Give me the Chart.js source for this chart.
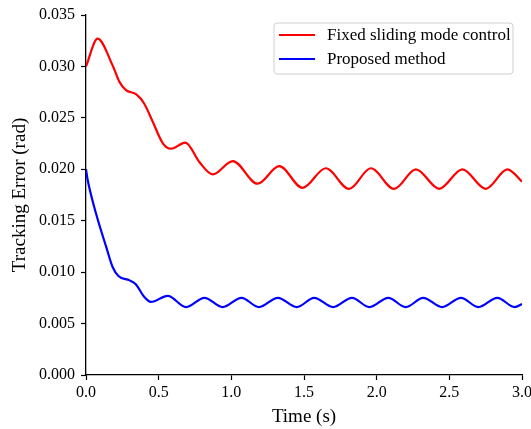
<!DOCTYPE html>
<html>
<head>
<meta charset="utf-8">
<script src="https://cdn.jsdelivr.net/npm/chart.js@4"></script>
<style>
  html, body { margin: 0; padding: 0; background: #fff; }
  #wrap { width: 531px; height: 429px; }
</style>
</head>
<body>
<div id="wrap"><canvas id="chart" width="531" height="429"></canvas></div>
<script>
// Veriler
const redLabel = "Fixed sliding mode control";
const redT = [0, 0.08, 0.183, 0.23, 0.275, 0.344, 0.40, 0.46, 0.53, 0.585, 0.684, 0.78, 0.872, 1.01, 1.18, 1.33, 1.49, 1.65, 1.81, 1.96, 2.12, 2.27, 2.43, 2.59, 2.75, 2.90, 3.0];
const redV = [0.0300, 0.0327, 0.0301, 0.0285, 0.0277, 0.0273, 0.0264, 0.0246, 0.0225, 0.0220, 0.0226, 0.0207, 0.0195, 0.0208, 0.0186, 0.0203, 0.0182, 0.0201, 0.0181, 0.0201, 0.0181, 0.0200, 0.0181, 0.0200, 0.0181, 0.0200, 0.0188];

const blueLabel = "Proposed method";
const blueT = [0, 0.011, 0.069, 0.138, 0.183, 0.225, 0.30, 0.344, 0.40, 0.447, 0.562, 0.689, 0.815, 0.94, 1.07, 1.19, 1.32, 1.45, 1.57, 1.70, 1.83, 1.95, 2.08, 2.20, 2.32, 2.45, 2.58, 2.70, 2.83, 2.95, 3.0];
const blueV = [0.0200, 0.0190, 0.0157, 0.0125, 0.0105, 0.0096, 0.0092, 0.0088, 0.0076, 0.0071, 0.0077, 0.0066, 0.0075, 0.0066, 0.0075, 0.0066, 0.0075, 0.0066, 0.0075, 0.0066, 0.0075, 0.0066, 0.0075, 0.0066, 0.0075, 0.0066, 0.0075, 0.0066, 0.0075, 0.0066, 0.0069];

const xTicks = [0, 0.5, 1.0, 1.5, 2.0, 2.5, 3.0];
const yTicks = [0, 0.005, 0.010, 0.015, 0.020, 0.025, 0.030, 0.035];

const FONT = "'Liberation Serif', 'Times New Roman', serif";

function pts(t, v){ return t.map((x,i)=>({x:x, y:v[i]})); }

// legend drawn inside the plot, top right
const legendBox = {
  id: "legendBox",
  afterDraw(chart){
    const ctx = chart.ctx, a = chart.chartArea;
    const w = 239, h = 51, x = a.right - 9 - w, y = a.top + 8;
    ctx.save();
    ctx.beginPath();
    ctx.roundRect(x, y, w, h, 3);
    ctx.fillStyle = "rgba(255,255,255,0.8)";
    ctx.fill();
    ctx.strokeStyle = "#d0d0d0";
    ctx.lineWidth = 1;
    ctx.stroke();
    ctx.font = "17px " + FONT;
    ctx.textBaseline = "middle";
    chart.data.datasets.forEach((ds,i)=>{
      const ly = y + 12 + i*24;
      ctx.beginPath();
      ctx.moveTo(x + 5, ly); ctx.lineTo(x + 41, ly);
      ctx.strokeStyle = ds.borderColor; ctx.lineWidth = 2.2;
      ctx.stroke();
      ctx.fillStyle = "#000";
      ctx.fillText(ds.label, x + 53, ly + 1);
    });
    ctx.restore();
  }
};

new Chart(document.getElementById("chart"), {
  type: "line",
  data: {
    datasets: [
      {label: redLabel, data: pts(redT, redV), borderColor: "#ff0000", borderWidth: 2.2, pointRadius: 0, cubicInterpolationMode: "monotone", fill: false},
      {label: blueLabel, data: pts(blueT, blueV), borderColor: "#0000ff", borderWidth: 2.2, pointRadius: 0, cubicInterpolationMode: "monotone", fill: false}
    ]
  },
  options: {
    responsive: false,
    animation: false,
    layout: {padding: {top: 15, right: 9, left: 0, bottom: 0}},
    plugins: {legend: {display: false}, tooltip: {enabled: false}},
    scales: {
      x: {
        type: "linear", min: 0, max: 3,
        afterBuildTicks: s => { s.ticks = xTicks.map(v=>({value:v})); },
        afterFit: s => { s.height = 54; s.paddingLeft = 0; s.paddingRight = 0; },
        ticks: {color: "#000", font: {family: FONT, size: 16}, padding: 3, maxRotation: 0,
                callback: v => v.toFixed(1)},
        grid: {drawOnChartArea: false, drawTicks: true, tickLength: 5, color: "#000", tickWidth: 1.2},
        border: {display: true, color: "#000", width: 1.3},
        title: {display: true, text: "Time (s)", color: "#000", font: {family: FONT, size: 19}, padding: {top: 0, bottom: 1}}
      },
      y: {
        type: "linear", min: 0, max: 0.035,
        afterBuildTicks: s => { s.ticks = yTicks.map(v=>({value:v})); },
        afterFit: s => { s.width = 86; s.paddingTop = 0; s.paddingBottom = 0; },
        ticks: {color: "#000", font: {family: FONT, size: 16}, padding: 6,
                callback: v => v.toFixed(3)},
        grid: {drawOnChartArea: false, drawTicks: true, tickLength: 5, color: "#000", tickWidth: 1.2},
        border: {display: true, color: "#000", width: 1.3},
        title: {display: true, text: "Tracking Error (rad)", color: "#000", font: {family: FONT, size: 19}, padding: {top: 9, bottom: 0}}
      }
    }
  },
  plugins: [legendBox]
});
</script>
</body>
</html>
